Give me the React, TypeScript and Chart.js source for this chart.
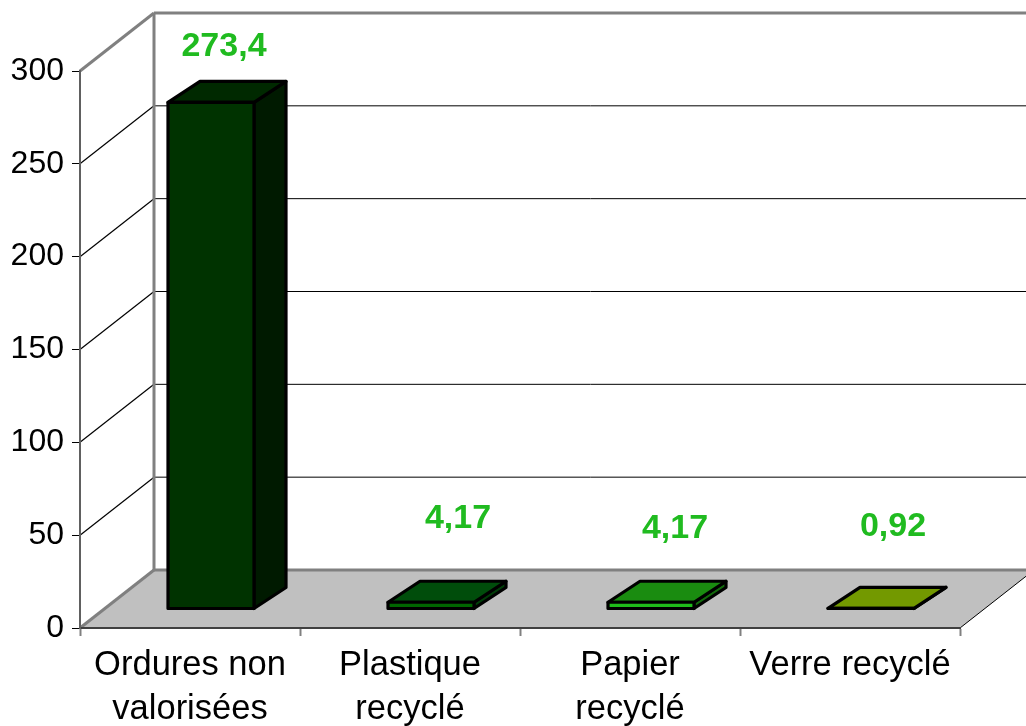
import React, { useEffect, useRef } from "react";
import { Chart, registerables } from "chart.js";

Chart.register(...registerables);

const categories: string[][] = [
  ["Ordures non", "valorisées"],
  ["Plastique", "recyclé"],
  ["Papier", "recyclé"],
  ["Verre recyclé"],
];
const values = [273.4, 4.17, 4.17, 0.92];
const valueLabels = ["273,4", "4,17", "4,17", "0,92"];
const yTicks = [0, 50, 100, 150, 200, 250, 300];

const frontColors = ["#003300", "#006600", "#1fbc1a", "#739900"];
const topColors = ["#002900", "#004d0b", "#1a8c10", "#739900"];
const sideColors = ["#001a00", "#003d08", "#126a0c", "#4d6600"];

const WALL = { dx: 74, dy: -58 };
const BAR_SHIFT = { dx: 21, dy: -19 };
const BAR_DEPTH = { dx: 32, dy: -21 };
const BAR_STROKE = 3.2;
const LABEL_OFFSET = [
  { dx: 13, dy: -55 },
  { dx: 27, dy: -83 },
  { dx: 24, dy: -73 },
  { dx: 22, dy: -81 },
];
const GRAY = "#808080";

function poly(ctx: CanvasRenderingContext2D, pts: number[][]) {
  ctx.beginPath();
  pts.forEach((p, i) => (i ? ctx.lineTo(p[0], p[1]) : ctx.moveTo(p[0], p[1])));
  ctx.closePath();
}

function line(ctx: CanvasRenderingContext2D, a: number[], b: number[], color: string, width: number) {
  ctx.strokeStyle = color;
  ctx.lineWidth = width;
  ctx.beginPath();
  ctx.moveTo(a[0], a[1]);
  ctx.lineTo(b[0], b[1]);
  ctx.stroke();
}

const box3d = {
  id: "box3d",
  beforeDraw(chart: any) {
    const { ctx, chartArea: a, scales } = chart;
    const y = scales.y;
    const L = a.left, R = a.right, B = y.getPixelForValue(0), T = y.getPixelForValue(300);
    const dx = WALL.dx, dy = WALL.dy;
    ctx.save();
    ctx.fillStyle = "#ffffff";
    ctx.fillRect(0, 0, chart.width, chart.height);
    // floor
    ctx.fillStyle = "#c0c0c0";
    poly(ctx, [[L, B], [L + dx, B + dy], [R + dx, B + dy], [R, B]]);
    ctx.fill();
    // grid lines on side and back walls
    yTicks.forEach((v) => {
      if (v === 0 || v === 300) return;
      const p = y.getPixelForValue(v);
      line(ctx, [L, p], [L + dx, p + dy], "#000000", 1.2);
      line(ctx, [L + dx, p + dy], [R + dx, p + dy], "#000000", 1);
    });
    // wall outlines
    line(ctx, [L, T], [L + dx, T + dy], GRAY, 3);
    line(ctx, [L + dx, T + dy], [R + dx, T + dy], GRAY, 3);
    line(ctx, [L + dx, T + dy], [L + dx, B + dy], GRAY, 3);
    line(ctx, [L, B], [L + dx, B + dy], GRAY, 3);
    line(ctx, [L + dx, B + dy], [R + dx, B + dy], GRAY, 3);
    line(ctx, [R, B], [R + dx, B + dy], "#000000", 1);
    ctx.restore();
  },
  beforeDatasetsDraw(chart: any) {
    const { ctx } = chart;
    ctx.save();
    ctx.translate(BAR_SHIFT.dx, BAR_SHIFT.dy);
    const meta = chart.getDatasetMeta(0);
    meta.data.forEach((el: any, i: number) => {
      const l = el.x - el.width / 2, r = el.x + el.width / 2;
      const t = el.y + 1, b = el.base;
      const ox = BAR_DEPTH.dx, oy = BAR_DEPTH.dy;
      ctx.lineWidth = BAR_STROKE;
      ctx.lineJoin = "round";
      ctx.strokeStyle = "#000000";
      ctx.fillStyle = sideColors[i];
      poly(ctx, [[r, t], [r + ox, t + oy], [r + ox, b + oy], [r, b]]);
      ctx.fill();
      ctx.stroke();
      ctx.fillStyle = topColors[i];
      poly(ctx, [[l, t], [l + ox, t + oy], [r + ox, t + oy], [r, t]]);
      ctx.fill();
      ctx.stroke();
    });
  },
  afterDatasetsDraw(chart: any) {
    const { ctx } = chart;
    const meta = chart.getDatasetMeta(0);
    // outline of the front faces, centred on the bar edges
    ctx.lineWidth = BAR_STROKE;
    ctx.lineJoin = "round";
    ctx.strokeStyle = "#000000";
    meta.data.forEach((el: any) => {
      const l = el.x - el.width / 2;
      const t = el.y + 1;
      ctx.strokeRect(l, t, el.width, el.base - t);
    });
    ctx.restore();
    ctx.save();
    ctx.font = "bold 34px 'Liberation Sans'";
    ctx.fillStyle = "#20bb20";
    ctx.textAlign = "center";
    ctx.textBaseline = "middle";
    meta.data.forEach((el: any, i: number) => {
      ctx.fillText(
        valueLabels[i],
        el.x + BAR_SHIFT.dx + LABEL_OFFSET[i].dx,
        el.y + BAR_SHIFT.dy + LABEL_OFFSET[i].dy
      );
    });
    ctx.restore();
  },
};

export default function App() {
  const ref = useRef<HTMLCanvasElement>(null);
  useEffect(() => {
    const chart = new Chart(ref.current as HTMLCanvasElement, {
      type: "bar",
      data: {
        labels: categories,
        datasets: [
          {
            data: values,
            backgroundColor: frontColors,
            borderWidth: 0,
            barThickness: 86,
          },
        ],
      },
      options: {
        responsive: false,
        animation: false,
        layout: { padding: { left: 0, top: 71, right: 66, bottom: 0 } },
        plugins: { legend: { display: false }, tooltip: { enabled: false } },
        scales: {
          x: {
            afterFit: (s: any) => {
              s.height = 98;
            },
            grid: { drawOnChartArea: false, offset: true, tickLength: 8, color: GRAY, tickWidth: 2 },
            border: { color: "#404040", width: 2 },
            ticks: {
              autoSkip: false,
              maxRotation: 0,
              minRotation: 0,
              color: "#000000",
              padding: 7,
              font: { family: "'Liberation Sans'", size: 34.5, lineHeight: 1.28 },
            },
          },
          y: {
            min: 0,
            max: 300,
            afterFit: (s: any) => {
              s.width = 80;
            },
            afterBuildTicks: (s: any) => {
              s.ticks = yTicks.map((value) => ({ value }));
            },
            grid: { drawOnChartArea: false, tickLength: 8, color: "#000000", tickWidth: 1 },
            border: { color: "#606060", width: 2 },
            ticks: {
              color: "#000000",
              padding: 8,
              font: { family: "'Liberation Sans'", size: 32 },
            },
          },
        },
      },
      plugins: [box3d],
    } as any);
    return () => chart.destroy();
  }, []);
  return (
    <div style={{ position: "absolute", left: 0, top: 0, width: 1026, height: 726, overflow: "hidden" }}>
      <canvas ref={ref} width={1026} height={726} style={{ display: "block" }} />
    </div>
  );
}
